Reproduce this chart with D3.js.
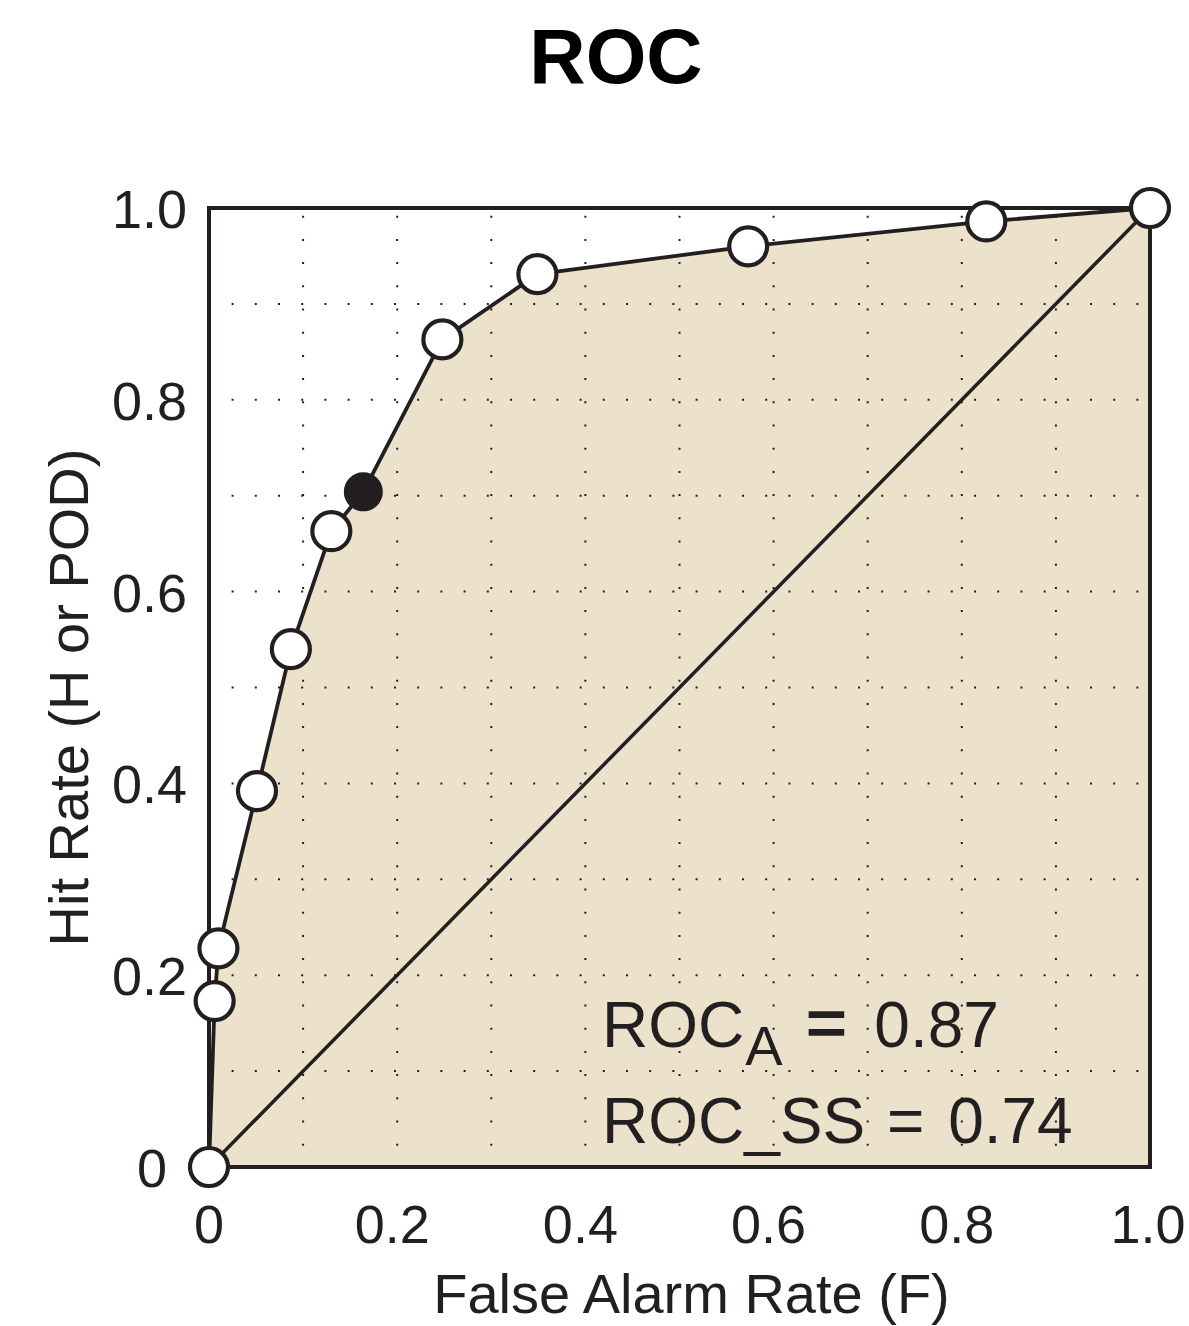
<!DOCTYPE html>
<html>
<head>
<meta charset="utf-8">
<script src="https://cdn.jsdelivr.net/npm/d3@7/dist/d3.min.js"></script>
<style>
  html, body { margin: 0; padding: 0; background: #ffffff; }
  svg { display: block; }
  text { font-family: "Liberation Sans", Arial, Helvetica, sans-serif; fill: #231f20; }
</style>
</head>
<body>
<div id="chart"></div>
<script>
// ROC curve: false alarm rate (F) vs hit rate (H) for successive decision thresholds
const falseAlarmRate = [0, 0.006, 0.010, 0.051, 0.087, 0.130, 0.164, 0.248, 0.349, 0.573, 0.826, 1.0];
const hitRate        = [0, 0.173, 0.228, 0.392, 0.540, 0.663, 0.704, 0.863, 0.931, 0.960, 0.986, 1.0];
// the highlighted (filled) threshold
const markerFilled   = [false, false, false, false, false, false, true, false, false, false, false, false];

const xTickValues = [0, 0.2, 0.4, 0.6, 0.8, 1.0];
const xTickLabels = ["0", "0.2", "0.4", "0.6", "0.8", "1.0"];
const yTickValues = [0, 0.2, 0.4, 0.6, 0.8, 1.0];
const yTickLabels = ["0", "0.2", "0.4", "0.6", "0.8", "1.0"];
const gridValues  = [0.1, 0.2, 0.3, 0.4, 0.5, 0.6, 0.7, 0.8, 0.9];

const rocArea = 0.87;
const rocSkillScore = 0.74;

const W = 1189, H = 1326;
const margin = { left: 209, top: 208, right: 39, bottom: 159 };
const innerW = W - margin.left - margin.right;
const innerH = H - margin.top - margin.bottom;
const ink = "#231f20";
const fillColor = "#ece1cb";

const svg = d3.select("#chart").append("svg")
  .attr("width", W).attr("height", H)
  .attr("viewBox", `0 0 ${W} ${H}`);

svg.append("rect").attr("width", W).attr("height", H).attr("fill", "#ffffff");

const x = d3.scaleLinear().domain([0, 1]).range([margin.left, margin.left + innerW]);
const y = d3.scaleLinear().domain([0, 1]).range([margin.top + innerH, margin.top]);

const pts = falseAlarmRate.map((f, i) => ({ f, h: hitRate[i], filled: markerFilled[i] }));

// shaded area under the curve
const area = d3.area().x(d => x(d.f)).y0(y(0)).y1(d => y(d.h));
svg.append("path").datum(pts).attr("d", area).attr("fill", fillColor);

// dotted grid
const grid = svg.append("g").attr("stroke", ink).attr("stroke-width", 2)
  .attr("stroke-dasharray", "2 21.2").attr("fill", "none");
grid.selectAll("line.v").data(gridValues).join("line")
  .attr("class", "v")
  .attr("x1", d => x(d)).attr("x2", d => x(d))
  .attr("y1", y(1)).attr("y2", y(0))
  .attr("stroke-dashoffset", -7.7);
grid.selectAll("line.h").data(gridValues).join("line")
  .attr("class", "h")
  .attr("x1", x(0)).attr("x2", x(1))
  .attr("y1", d => y(d)).attr("y2", d => y(d))
  .attr("stroke-dashoffset", -22.6);

// frame
svg.append("rect")
  .attr("x", x(0)).attr("y", y(1))
  .attr("width", x(1) - x(0)).attr("height", y(0) - y(1))
  .attr("fill", "none").attr("stroke", ink).attr("stroke-width", 4);

// no-skill diagonal
svg.append("line")
  .attr("x1", x(0)).attr("y1", y(0)).attr("x2", x(1)).attr("y2", y(1))
  .attr("stroke", ink).attr("stroke-width", 3.5);

// ROC curve
const line = d3.line().x(d => x(d.f)).y(d => y(d.h));
svg.append("path").datum(pts).attr("d", line)
  .attr("fill", "none").attr("stroke", ink).attr("stroke-width", 3.8)
  .attr("stroke-linejoin", "round");

// threshold markers
svg.selectAll("circle.pt").data(pts).join("circle")
  .attr("class", "pt")
  .attr("cx", d => x(d.f)).attr("cy", d => y(d.h))
  .attr("r", d => d.filled ? 18 : 19)
  .attr("fill", d => d.filled ? ink : "#ffffff")
  .attr("stroke", ink).attr("stroke-width", d => d.filled ? 3 : 4.2);

// tick labels
svg.selectAll("text.xt").data(xTickValues).join("text")
  .attr("class", "xt")
  .attr("x", (d, i) => x(d) + (d === 0 ? 0 : (d === 1 ? -2 : -5)))
  .attr("y", 1243)
  .attr("text-anchor", "middle")
  .attr("font-size", 54)
  .text((d, i) => xTickLabels[i]);

svg.selectAll("text.yt").data(yTickValues).join("text")
  .attr("class", "yt")
  .attr("x", d => d === 0 ? x(0) - 42 : x(0) - 22)
  .attr("y", d => y(d) + 20)
  .attr("text-anchor", "end")
  .attr("font-size", 54)
  .text((d, i) => yTickLabels[i]);

// axis titles
svg.append("text")
  .attr("x", (x(0) + x(1)) / 2 + 12).attr("y", 1313)
  .attr("text-anchor", "middle").attr("font-size", 56)
  .text("False Alarm Rate (F)");

svg.append("text")
  .attr("transform", `translate(88, ${(y(0) + y(1)) / 2 + 10}) rotate(-90)`)
  .attr("text-anchor", "middle").attr("font-size", 56)
  .text("Hit Rate (H or POD)");

// title
svg.append("text")
  .attr("x", 616).attr("y", 83)
  .attr("text-anchor", "middle").attr("font-size", 78).attr("font-weight", "bold")
  .style("fill", "#000000")
  .text("ROC");

// score annotations
const a1 = svg.append("text").attr("x", 602).attr("y", 1047).attr("font-size", 64);
a1.append("tspan").text("ROC");
a1.append("tspan").attr("font-size", 56).attr("dx", 1).attr("dy", 18).text("A");
a1.append("tspan").attr("dy", -18).attr("dx", 4).attr("font-size", 70)
  .attr("stroke", ink).attr("stroke-width", 1.6).text(" = ");
a1.append("tspan").attr("dx", 8).text(rocArea.toFixed(2));

const a2 = svg.append("text").attr("x", 602).attr("y", 1143).attr("font-size", 64);
a2.append("tspan").text("ROC_SS");
a2.append("tspan").attr("dx", 4).text(" = ");
a2.append("tspan").attr("dx", 6).text(rocSkillScore.toFixed(2));
</script>
</body>
</html>
